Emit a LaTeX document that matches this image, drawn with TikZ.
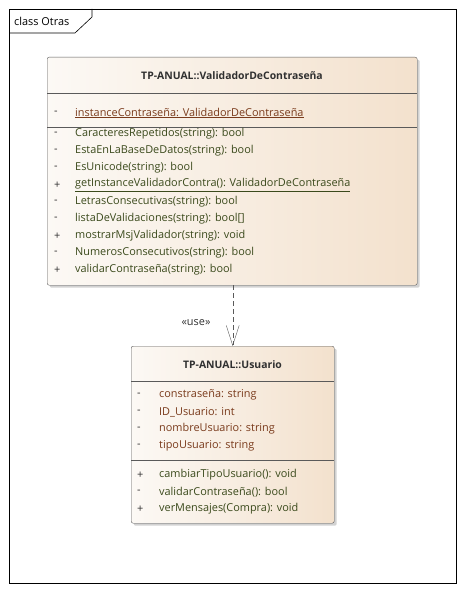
\documentclass[tikz,border=0pt]{standalone}
\usepackage{fontspec}
\setmainfont{Open Sans}
\usepackage{xcolor}
\definecolor{umlleft}{HTML}{FCF9F5}
\definecolor{umlright}{HTML}{F3E1CD}
\definecolor{attrcol}{HTML}{7A3B1C}
\definecolor{opcol}{HTML}{3B4A1C}
\definecolor{titlecol}{HTML}{303030}
\definecolor{linecol}{HTML}{5A5A5A}
\usetikzlibrary{arrows.meta,positioning,shadows}
\newcommand{\umlfont}{\fontsize{10.9}{12}\selectfont}
\newcommand{\umltitlefont}{\bfseries\fontsize{10.4}{12}\selectfont}
\tikzset{
  classbox/.style={draw=linecol,rounded corners=2pt,left color=umlleft,right color=umlright,
    drop shadow={shadow xshift=2.5pt,shadow yshift=-2.5pt,fill=black!35},anchor=north west,inner sep=0pt},
  classtitle/.style={font=\umltitlefont,text=titlecol},
  visib/.style={anchor=west,inner sep=0pt,font=\umlfont,text=titlecol},
  attr/.style={anchor=west,inner sep=0pt,font=\umlfont,text=attrcol},
  oper/.style={anchor=west,inner sep=0pt,font=\umlfont,text=opcol},
  sepline/.style={draw=linecol},
  usearrow/.style={dash pattern=on 5pt off 3pt,linecol,-{Straight Barb[length=20pt,width=13pt]}}
}

\begin{document}
\begin{tikzpicture}[x=1pt,y=-1pt]
\useasboundingbox (0,0) rectangle (464,591);
% frame
\draw[black,semithick] (9,9) rectangle (456,583);
\draw[black,semithick] (9,33) -- (75,33) -- (92,17) -- (92,9);
\node[anchor=west,inner sep=0pt,font=\umlfont] (framelabel) at (14,21) {class Otras};

% ValidadorDeContrasena
\node[classbox,minimum width=370pt,minimum height=228pt] (val) at (47,57) {};
\node[classtitle] (valtitle) at (232,76) {TP-ANUAL::ValidadorDeContraseña};
\draw[sepline] (47,93) -- (417,93);
\draw[sepline] (47,127) -- (417,127);
\node[visib] (valvis0) at (54,113) {-};
\node[attr] (valattr) at (75,113) {\underline{instanceContraseña: ValidadorDeContraseña}};
\foreach \v/\t [count=\i] in {-/{CaracteresRepetidos(string): bool},
    -/{EstaEnLaBaseDeDatos(string): bool},
    -/{EsUnicode(string): bool},
    +/{\underline{getInstanceValidadorContra(): ValidadorDeContraseña}},
    -/{LetrasConsecutivas(string): bool},
    -/{listaDeValidaciones(string): bool[]},
    +/{mostrarMsjValidador(string): void},
    -/{NumerosConsecutivos(string): bool},
    +/{validarContraseña(string): bool}}{
  \node[visib] (valvis\i) at (54,{117+17*\i}) {\v};
  \node[oper] (valop\i) at (75,{117+17*\i}) {\t};
}

% Usuario
\node[classbox,minimum width=203pt,minimum height=177pt] (usu) at (131,346) {};
\node[classtitle] (usutitle) at (232.5,365) {TP-ANUAL::Usuario};
\draw[sepline] (131,381) -- (334,381);
\draw[sepline] (131,460) -- (334,460);
\foreach \v/\t [count=\i] in {-/{constraseña: string},
    -/{ID\_Usuario: int},
    -/{nombreUsuario: string},
    -/{tipoUsuario: string}}{
  \node[visib] (usuvis\i) at (137,{378+17*\i}) {\v};
  \node[attr] (usuattr\i) at (159,{378+17*\i}) {\t};
}
\foreach \v/\t [count=\i] in {+/{cambiarTipoUsuario(): void},
    -/{validarContraseña(): bool},
    +/{verMensajes(Compra): void}}{
  \node[visib] (usuopvis\i) at (137,{458+17*\i}) {\v};
  \node[oper] (usuop\i) at (159,{458+17*\i}) {\t};
}

% dependency
\draw[usearrow] (val.south -| usu.north) -- (usu.north);
\node[font=\umlfont,text=titlecol] (uselabel) at (196,323) {«use»};
\end{tikzpicture}
\end{document}
